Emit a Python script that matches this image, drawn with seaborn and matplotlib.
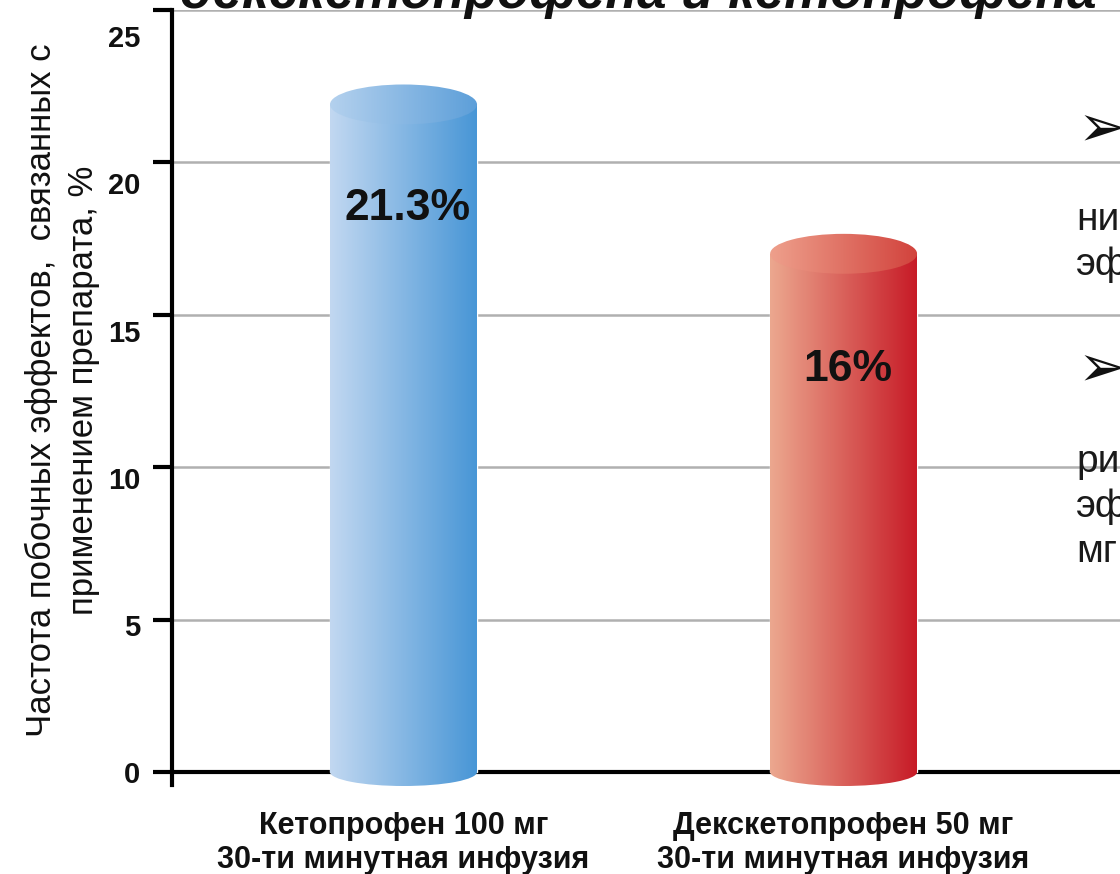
import numpy as np
import pandas as pd
import matplotlib
matplotlib.use("Agg")
import matplotlib.pyplot as plt
from matplotlib.patches import Ellipse
from matplotlib.transforms import ScaledTranslation
import seaborn as sns

# ---- data ----
categories = ["Кетопрофен 100 мг\n30-ти минутная инфузия",
              "Декскетопрофен 50 мг\n30-ти минутная инфузия"]
bar_heights = [21.9, 17.0]          # drawn cylinder heights
label_values = [21.3, 16.0]          # printed values
value_labels = ["21.3%", "16%"]
yticks = [0, 5, 10, 15, 20, 25]
ylabel = "Частота побочных эффектов,  связанных с\nприменением препарата, %"
title = "декскетопрофена и кетопрофена"
side_fragments = ["ни", "эф", "ри", "эф", "мг"]

body_left = ["#c2d8f1", "#eca88f"]
body_right = ["#4896d6", "#c71b27"]
top_left = ["#b4d1ee", "#eea08c"]
top_right = ["#5d9fd9", "#d2433d"]

sns.set_theme(style="white")
plt.rcParams["font.family"] = ["Liberation Sans", "DejaVu Sans"]

fig = plt.figure(figsize=(11.2, 8.74), dpi=100)
ax = fig.add_axes([172 / 1120, 0.0958, 1 - 172 / 1120, 0.8928])

df = pd.DataFrame({"cat": categories, "val": bar_heights})
sns.barplot(data=df, x="cat", y="val", hue="cat", palette=body_right,
            width=0.334, saturation=1, legend=False, ax=ax, zorder=3)


def hexrgb(c):
    return np.array(matplotlib.colors.to_rgb(c))


def gradient(x0, x1, y0, y1, c0, c1, clip, z):
    t = np.linspace(0, 1, 256)[None, :, None]
    img = hexrgb(c0) + (hexrgb(c1) - hexrgb(c0)) * t
    img = np.repeat(img, 2, axis=0)
    im = ax.imshow(img, extent=[x0, x1, y0, y1], aspect="auto",
                   interpolation="bilinear", zorder=z, origin="lower")
    im.set_clip_path(clip)
    return im


top_h = 1.31
bot_h = 0.92
for i, p in enumerate(ax.patches):
    x0 = p.get_x()
    w = p.get_width()
    h = p.get_height()
    cx = x0 + w / 2
    # body
    gradient(x0, x0 + w, 0, h, body_left[i], body_right[i], p, 3.1)
    # bottom cap
    eb = Ellipse((cx, 0), w, bot_h, facecolor="none", edgecolor="none")
    ax.add_patch(eb)
    gradient(x0, x0 + w, -bot_h, bot_h, body_left[i], body_right[i], eb, 3.1)
    # top cap
    et = Ellipse((cx, h), w, top_h, facecolor="none", edgecolor="none")
    ax.add_patch(et)
    gradient(x0, x0 + w, h - top_h, h + top_h, top_left[i], top_right[i], et, 3.2)
    # value label
    ax.text(cx + 0.01, label_values[i] - 2.8, value_labels[i], ha="center",
            va="center", fontsize=32, fontweight="bold", color="#111111", zorder=5)

ax.set_xlim(-0.526, 1.628)
ax.set_ylim(-0.6, 25)

# spines
for s in ["top", "right"]:
    ax.spines[s].set_visible(False)
ax.spines["left"].set_linewidth(3)
ax.spines["left"].set_color("black")
ax.spines["left"].set_bounds(-0.42, 25)
ax.spines["bottom"].set_linewidth(3)
ax.spines["bottom"].set_color("black")
ax.spines["bottom"].set_position(("data", 0))

# grid
ax.set_axisbelow(True)
ax.yaxis.grid(True, color="#b0b0b0", lw=1.8)
ax.xaxis.grid(False)

# y ticks
ax.set_yticks(yticks)
ax.set_yticklabels([str(v) for v in yticks])
ax.tick_params(axis="y", direction="out", length=14, width=3, color="black",
               pad=9, labelsize=21, left=True)
for lab, v in zip(ax.get_yticklabels(), yticks):
    lab.set_fontweight("bold")
    lab.set_color("#111111")
    lab.set_transform(lab.get_transform() +
                      ScaledTranslation(0, -v * 1.05 / 100, fig.dpi_scale_trans))

# x ticks
ax.set_xlabel("")
ax.tick_params(axis="x", length=0, pad=28)
for lab in ax.get_xticklabels():
    lab.set_fontweight("bold")
    lab.set_fontsize(22)
    lab.set_color("#111111")
    lab.set_linespacing(1.2)

# y label
ax.set_ylabel(ylabel, fontsize=25, color="#111111", linespacing=1.35)
ax.yaxis.set_label_coords(-0.076, 0.513)

# cropped slide title and side text
fig.text(180 / 1120, 1 - 8 / 874, title, fontsize=38, fontweight="bold",
         fontstyle="italic", va="baseline", ha="left", color="#111111")
for y in [130, 370]:
    fig.text(1078 / 1120, 1 - y / 874, "➢", fontsize=42, va="center",
             ha="left", family=["DejaVu Sans"], color="#111111")
for frag, y in zip(side_fragments, [220, 265, 462, 507, 552]):
    fig.text(1076 / 1120, 1 - y / 874, frag, fontsize=28, va="center",
             ha="left", color="#1a1a1a")

fig.savefig("out.png", dpi=100)
